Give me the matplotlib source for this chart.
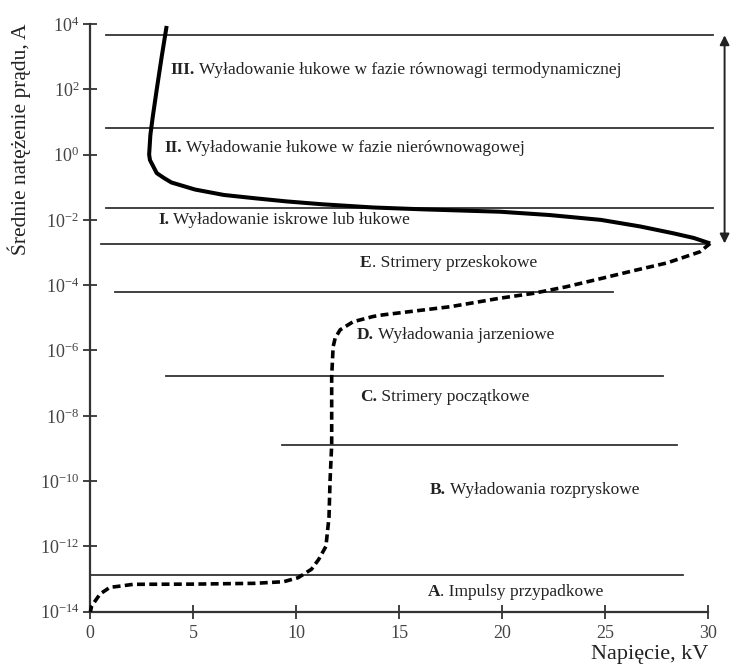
import numpy as np
import matplotlib.pyplot as plt

plt.rcParams['font.family'] = ['Liberation Serif', 'DejaVu Serif']
plt.rcParams['mathtext.fontset'] = 'custom'
plt.rcParams['mathtext.rm'] = 'Liberation Serif'
plt.rcParams['mathtext.bf'] = 'Liberation Serif:bold'
plt.rcParams['mathtext.it'] = 'Liberation Serif:italic'
plt.rcParams['axes.unicode_minus'] = False

# Arc branch (solid): voltage kV, current A
arc_kv = [3.72, 3.48, 3.24, 3.05, 2.93, 2.87, 2.91, 3.24, 3.6, 3.95, 5.1,
          6.5, 8.0, 9.5, 11.3, 13.75, 16.2, 19.9, 22.3, 24.8, 26.7, 28.3,
          29.3, 30.1]
arc_i = [8.7e3, 1.0e3, 100, 15, 4.0, 1.0, 0.68, 0.27, 0.19, 0.14, 0.085,
         0.058, 0.046, 0.037, 0.030, 0.024, 0.021, 0.0178, 0.0141, 0.010,
         0.0063, 0.0039, 0.0028, 0.0019]

# Pre-breakdown branch (dashed)
pre_kv = [30.1, 29.6, 28.0, 26.4, 24.8, 23.1, 21.5, 19.9, 17.5, 14.2, 13.74,
          12.77, 12.14, 11.9, 11.8, 11.73, 11.73, 11.65, 11.6, 11.45, 11.1,
          10.75, 10.1, 9.4, 8.0, 5.0, 2.1, 1.3, 0.97, 0.49, 0.08, 0.02]
pre_i = [0.0019, 1.05e-3, 4.8e-4, 2.8e-4, 1.6e-4, 8.9e-5, 5.6e-5, 4.0e-5,
         2.2e-5, 1.23e-5, 1.1e-5, 7.6e-6, 4.3e-6, 2.4e-6, 1.3e-6, 1.6e-7,
         1.3e-9, 1.0e-10, 7.9e-12, 1.0e-12, 4.0e-13, 2.0e-13, 1.1e-13,
         8.3e-14, 7.4e-14, 7.0e-14, 6.9e-14, 5.9e-14, 5.6e-14, 3.5e-14,
         1.5e-14, 1.0e-14]

# Region boundaries
levels = [4.7e3, 6.7, 0.023, 1.8e-3, 6.3e-5, 1.6e-7, 1.3e-9, 1.3e-13]
lev_start = [0.8, 0.8, 0.8, 0.55, 1.2, 3.7, 9.3, 0.0]
lev_end = [30.25, 30.25, 30.25, 29.9, 25.4, 27.8, 28.5, 28.8]

# Region labels (bold prefix + regular text)
lab_prefix = ['III.', 'II.', 'I.', 'E', 'D.', 'C.', 'B.', 'A']
lab_text = [' Wyładowanie łukowe w fazie równowagi termodynamicznej',
            ' Wyładowanie łukowe w fazie nierównowagowej',
            ' Wyładowanie iskrowe lub łukowe',
            '. Strimery przeskokowe',
            ' Wyładowania jarzeniowe',
            ' Strimery początkowe',
            ' Wyładowania rozpryskowe',
            '. Impulsy przypadkowe']
lab_kv = [3.9, 3.6, 3.3, 13.1, 12.95, 13.1, 16.5, 16.4]
lab_i = [390, 1.6, 0.0100, 4.8e-4, 3.0e-6, 3.9e-8, 5.4e-11, 4.0e-14]

yticks = [10.0 ** k for k in range(-14, 5, 2)]
xticks = [0, 5, 10, 15, 20, 25, 30]

fig = plt.figure(figsize=(7.3, 6.7), dpi=100)
ax = fig.add_axes([0.1233, 0.087, 0.8467, 0.8772])

for y, x0, x1 in zip(levels, lev_start, lev_end):
    ax.plot([x0, x1], [y, y], color='#333333', lw=1.3, clip_on=False)

ax.plot(arc_kv, arc_i, color='black', lw=2.9, solid_capstyle='butt',
        solid_joinstyle='round', clip_on=False, zorder=3)
ax.plot(pre_kv, pre_i, color='black', lw=2.6, linestyle=(0, (2.2, 1.2)),
        clip_on=False, zorder=3)

for p, t, x, y in zip(lab_prefix, lab_text, lab_kv, lab_i):
    head = ax.text(x, y, p, fontsize=12.5, fontweight='bold', ha='left',
                   va='center', color='#222222')
    ax.annotate(t, xy=(1, 0), xycoords=head, ha='left', va='bottom',
                fontsize=12.5, color='#222222')

ax.annotate('', xy=(30.8, 4.5e3), xytext=(30.8, 1.9e-3),
            arrowprops=dict(arrowstyle='<|-|>', color='#222222', lw=1.4,
                            mutation_scale=14, shrinkA=0, shrinkB=0),
            annotation_clip=False)

ax.set_yscale('log')
ax.set_xlim(0, 30)
ax.set_ylim(1e-14, 1e4)
ax.set_yticks(yticks)
ax.set_xticks(xticks)
ax.minorticks_off()
ax.tick_params(direction='inout', length=9.5, width=1.3, labelsize=13,
               colors='#333333', labelcolor='#444444')
ax.tick_params(axis='y', pad=3)
ax.tick_params(axis='x', pad=5)
for s in ['top', 'right']:
    ax.spines[s].set_visible(False)
for s in ['left', 'bottom']:
    ax.spines[s].set_linewidth(1.6)
    ax.spines[s].set_color('#333333')

ax.set_ylabel('Średnie natężenie prądu, A', fontsize=15.5, loc='top',
              color='#222222', labelpad=6)
ax.set_xlabel('Napięcie, kV', fontsize=16, loc='right', color='#222222',
              labelpad=2)

fig.savefig('out.png', dpi=100)
